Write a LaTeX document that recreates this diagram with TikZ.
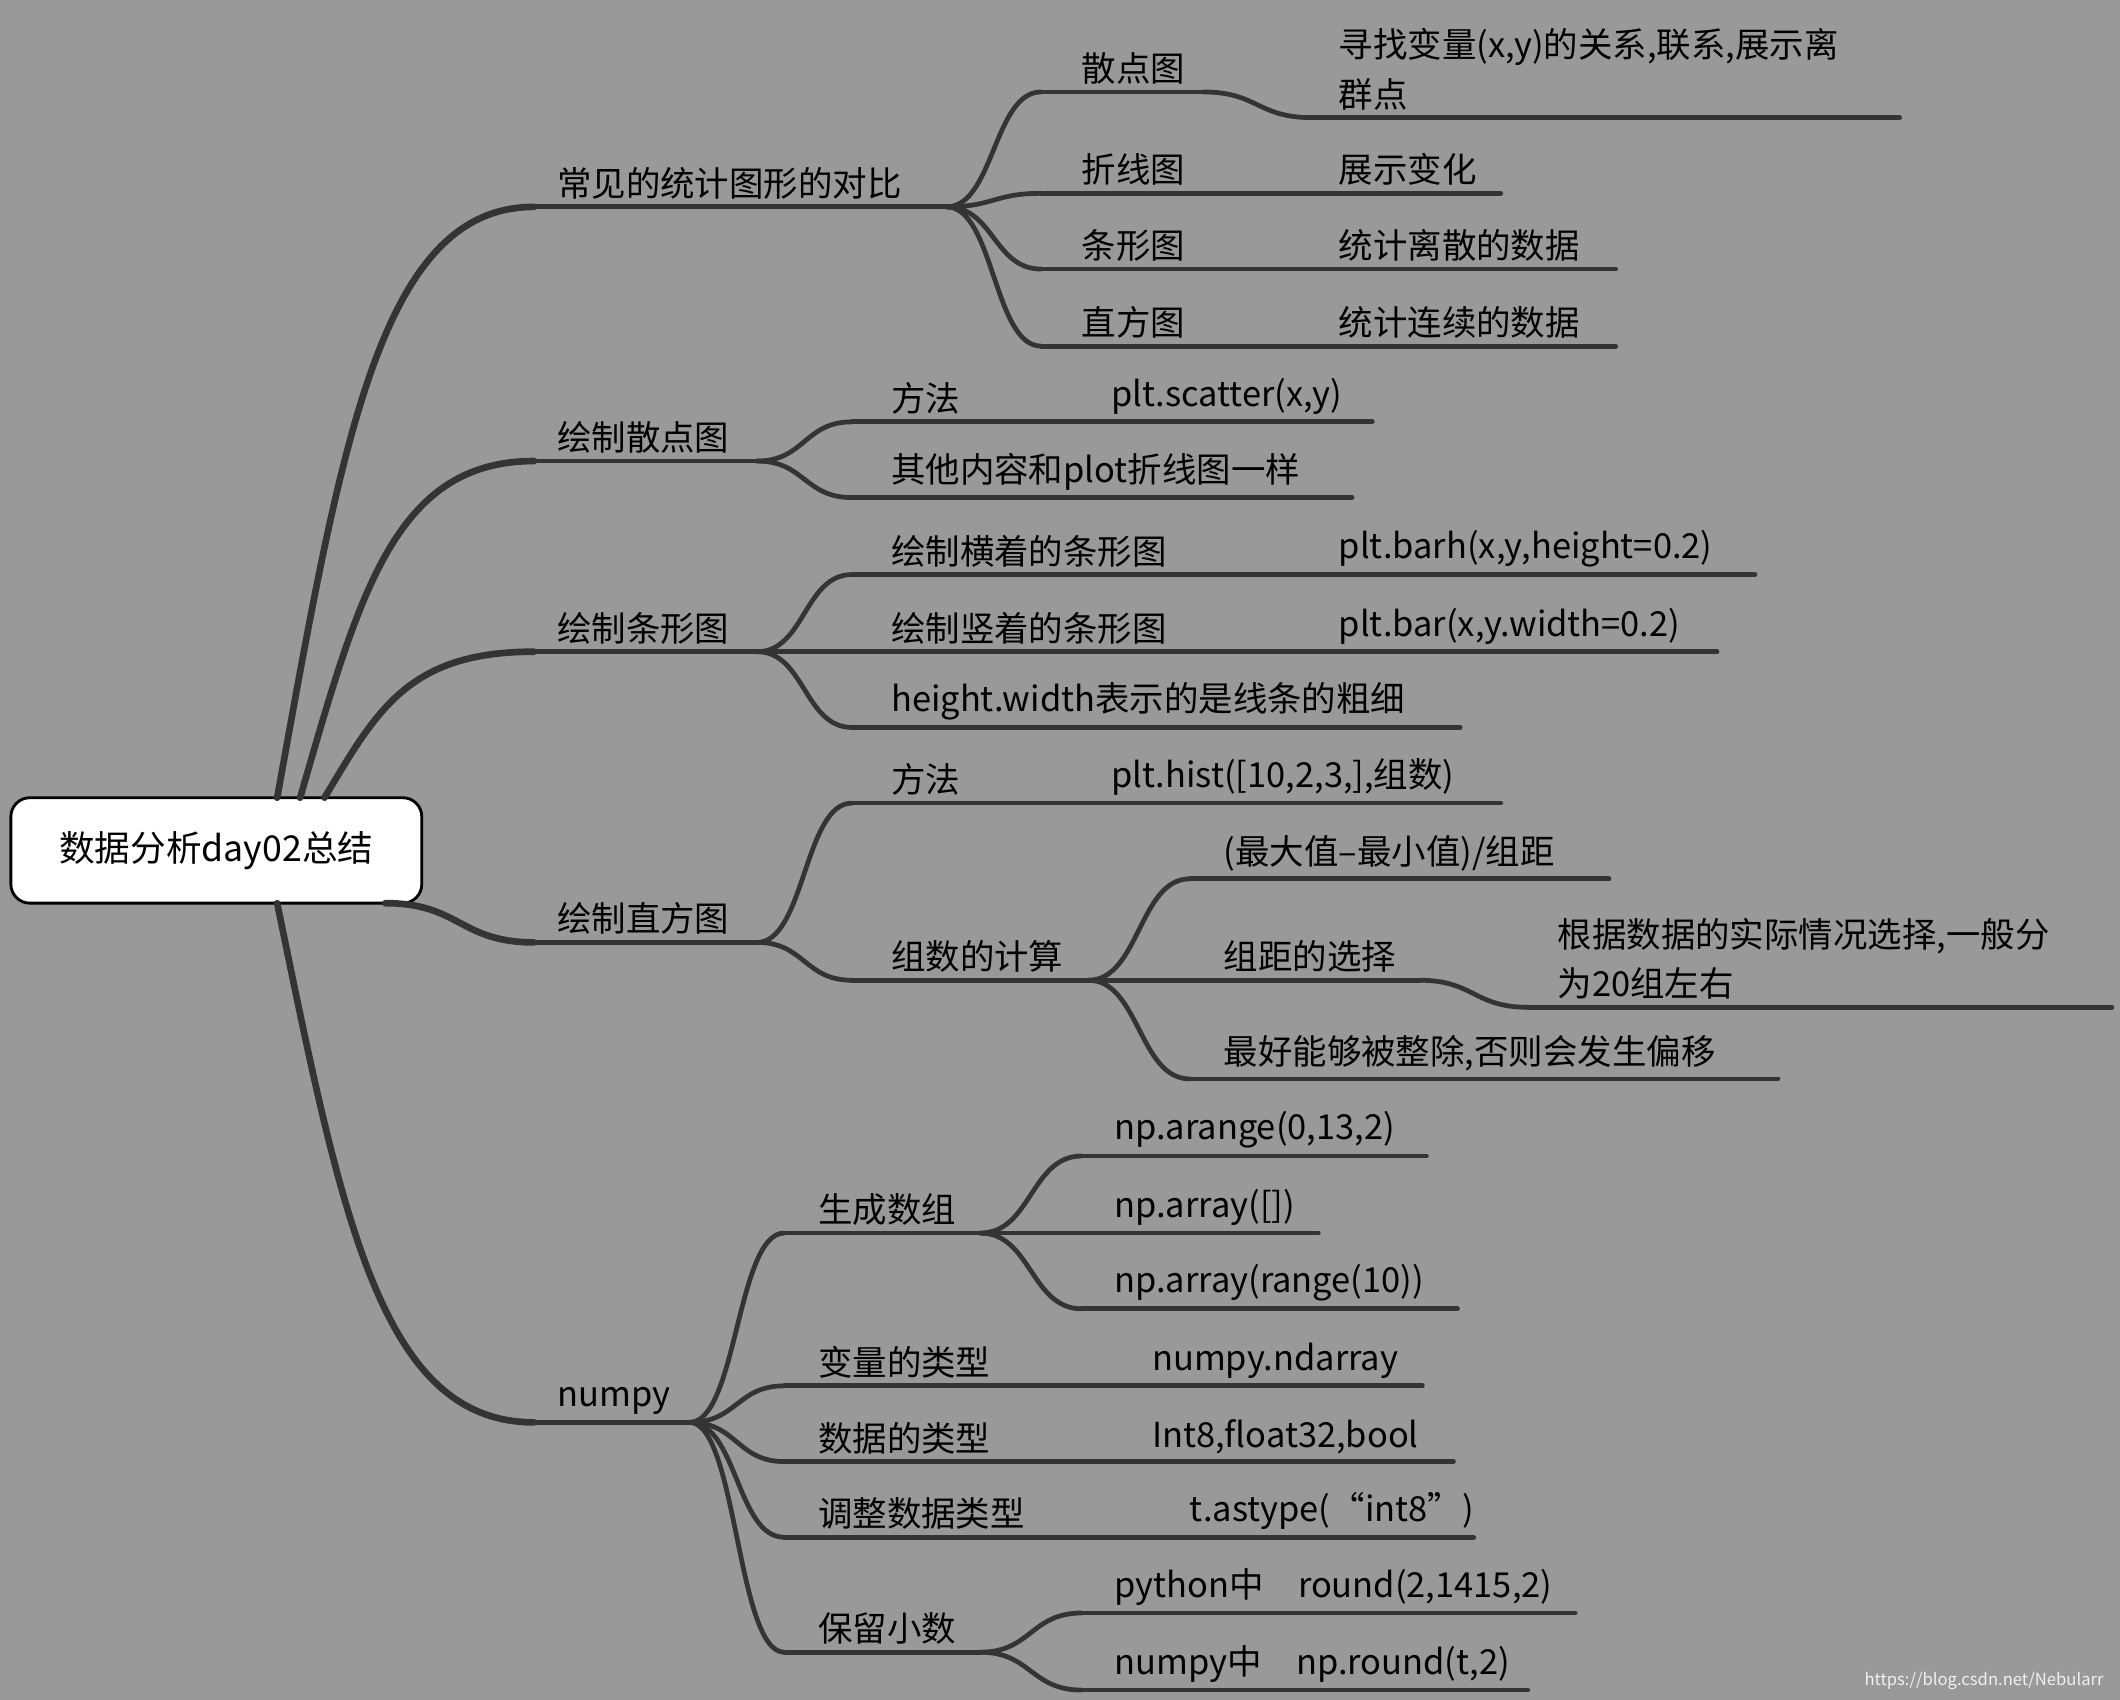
\documentclass[tikz,border=0pt]{standalone}
\usepackage{fontspec}
\setmainfont{Noto Sans CJK SC}
\usetikzlibrary{calc}
\definecolor{bgc}{RGB}{153,153,153}
\definecolor{linec}{RGB}{52,52,52}

% text on an underline: name, x start, x end, y, text x, text
\newcommand\mmnode[6]{%
  \coordinate (#1s) at (#2,#4); \coordinate (#1e) at (#3,#4);
  \node[lbl] (#1) at (#5,#4) {#6};
  \draw[ul] (#1s) -- (#1e);}
% s-curve from end of one line to start of the next
\newcommand\mmlink[3][ul]{%
  \draw[#1] let \p1=(#2), \p2=(#3) in (\p1) .. controls ({(\x1+\x2)/2},\y1) and ({(\x1+\x2)/2},\y2) .. (\p2);}
\newcommand\rootlink[2]{%
  \draw[ul0] let \p1=(#1), \p2=(#2) in (\p1) .. controls ({\x1+0.25*(\x2-\x1)},{\y1+0.6*(\y2-\y1)}) and ({\x1+0.4*(\x2-\x1)},\y2) .. (\p2);}

\begin{document}
\begin{tikzpicture}[x=0.02cm, y=-0.02cm,
    lbl/.style={anchor=south west, inner sep=1pt, yshift=2pt, align=left,
                font=\fontsize{14.5}{21}\selectfont, text=black},
    ul/.style={draw=linec, line width=2pt, line cap=round},
    ul0/.style={draw=linec, line width=2.8pt, line cap=round},
    rootbox/.style={draw=black, line width=1.2pt, fill=white, rounded corners=8pt,
                minimum width=6.08cm, minimum height=1.56cm,
                font=\fontsize{15}{18}\selectfont}]
    \useasboundingbox[fill=bgc] (0,0) rectangle (1568,1257);

    % root
    \node[rootbox] (root) at (160,629) {数据分析day02总结};
    \coordinate (r1) at (205,590);
    \coordinate (r2) at (222,590);
    \coordinate (r3) at (240,590);
    \coordinate (r4) at (285,668);
    \coordinate (r5) at (205,668);

    % level 1
    \mmnode{a}{395}{700}{153}{410}{常见的统计图形的对比}
    \mmnode{b}{395}{560}{341}{410}{绘制散点图}
    \mmnode{c}{395}{560}{482}{410}{绘制条形图}
    \mmnode{d}{395}{560}{697}{410}{绘制直方图}
    \mmnode{e}{395}{510}{1052}{410}{numpy}
    \rootlink{r1}{as}
    \rootlink{r2}{bs}
    \rootlink{r3}{cs}
    \mmlink[ul0]{r4}{ds}
    \rootlink{r5}{es}

    % common charts
    \mmnode{a1}{770}{890}{68}{798}{散点图}
    \mmnode{a1x}{970}{1405}{87}{988}{寻找变量(x,y)的关系,联系,展示离\\群点}
    \mmnode{a2}{770}{890}{143}{798}{折线图}
    \mmnode{a2x}{890}{1110}{143}{988}{展示变化}
    \mmnode{a3}{770}{890}{199}{798}{条形图}
    \mmnode{a3x}{890}{1195}{199}{988}{统计离散的数据}
    \mmnode{a4}{770}{890}{256}{798}{直方图}
    \mmnode{a4x}{890}{1195}{256}{988}{统计连续的数据}
    \foreach \k in {a1,a2,a3,a4} {\mmlink{ae}{\k s}}
    \mmlink{a1e}{a1xs}

    % scatter
    \mmnode{b1}{630}{720}{312}{657}{方法}
    \mmnode{b1x}{720}{1015}{312}{820}{plt.scatter(x,y)}
    \mmnode{b2}{630}{1000}{368}{657}{其他内容和plot折线图一样}
    \foreach \k in {b1,b2} {\mmlink{be}{\k s}}

    % bar
    \mmnode{c1}{630}{890}{425}{657}{绘制横着的条形图}
    \mmnode{c1x}{890}{1298}{425}{988}{plt.barh(x,y,height=0.2)}
    \mmnode{c2}{630}{890}{482}{657}{绘制竖着的条形图}
    \mmnode{c2x}{890}{1270}{482}{988}{plt.bar(x,y.width=0.2)}
    \mmnode{c3}{630}{1080}{538}{657}{height.width表示的是线条的粗细}
    \foreach \k in {c1,c2,c3} {\mmlink{ce}{\k s}}

    % histogram
    \mmnode{d1}{630}{720}{594}{657}{方法}
    \mmnode{d1x}{720}{1110}{594}{820}{plt.hist([10,2,3,],组数)}
    \mmnode{d2}{630}{805}{725}{657}{组数的计算}
    \foreach \k in {d1,d2} {\mmlink{de}{\k s}}
    \mmnode{d21}{880}{1190}{650}{903}{(最大值–最小值)/组距}
    \mmnode{d22}{880}{1050}{725}{903}{组距的选择}
    \mmnode{d22x}{1130}{1562}{745}{1150}{根据数据的实际情况选择,一般分\\为20组左右}
    \mmnode{d23}{880}{1315}{798}{903}{最好能够被整除,否则会发生偏移}
    \foreach \k in {d21,d22,d23} {\mmlink{d2e}{\k s}}
    \mmlink{d22e}{d22xs}

    % numpy
    \mmnode{e1}{580}{725}{912}{603}{生成数组}
    \mmnode{e2}{580}{750}{1025}{603}{变量的类型}
    \mmnode{e2x}{750}{1052}{1025}{850}{numpy.ndarray}
    \mmnode{e3}{580}{750}{1081}{603}{数据的类型}
    \mmnode{e3x}{750}{1075}{1081}{850}{Int8,float32,bool}
    \mmnode{e4}{580}{780}{1137}{603}{调整数据类型}
    \mmnode{e4x}{780}{1090}{1137}{878}{t.astype(“int8”)}
    \mmnode{e5}{580}{725}{1222}{603}{保留小数}
    \foreach \k in {e1,e2,e3,e4,e5} {\mmlink{ee}{\k s}}
    \mmnode{e11}{800}{1055}{855}{822}{np.arange(0,13,2)}
    \mmnode{e12}{800}{975}{912}{822}{np.array([])}
    \mmnode{e13}{800}{1078}{968}{822}{np.array(range(10))}
    \foreach \k in {e11,e12,e13} {\mmlink{e1e}{\k s}}
    \mmnode{e51}{800}{1165}{1193}{822}{python中\quad round(2,1415,2)}
    \mmnode{e52}{800}{1130}{1250}{822}{numpy中\quad np.round(t,2)}
    \foreach \k in {e51,e52} {\mmlink{e5e}{\k s}}

    % watermark
    \node[anchor=east, text=white!85!bgc, font=\fontsize{7}{8}\selectfont] (wm) at (1562,1243) {https://blog.csdn.net/Nebularr};
\end{tikzpicture}
\end{document}
